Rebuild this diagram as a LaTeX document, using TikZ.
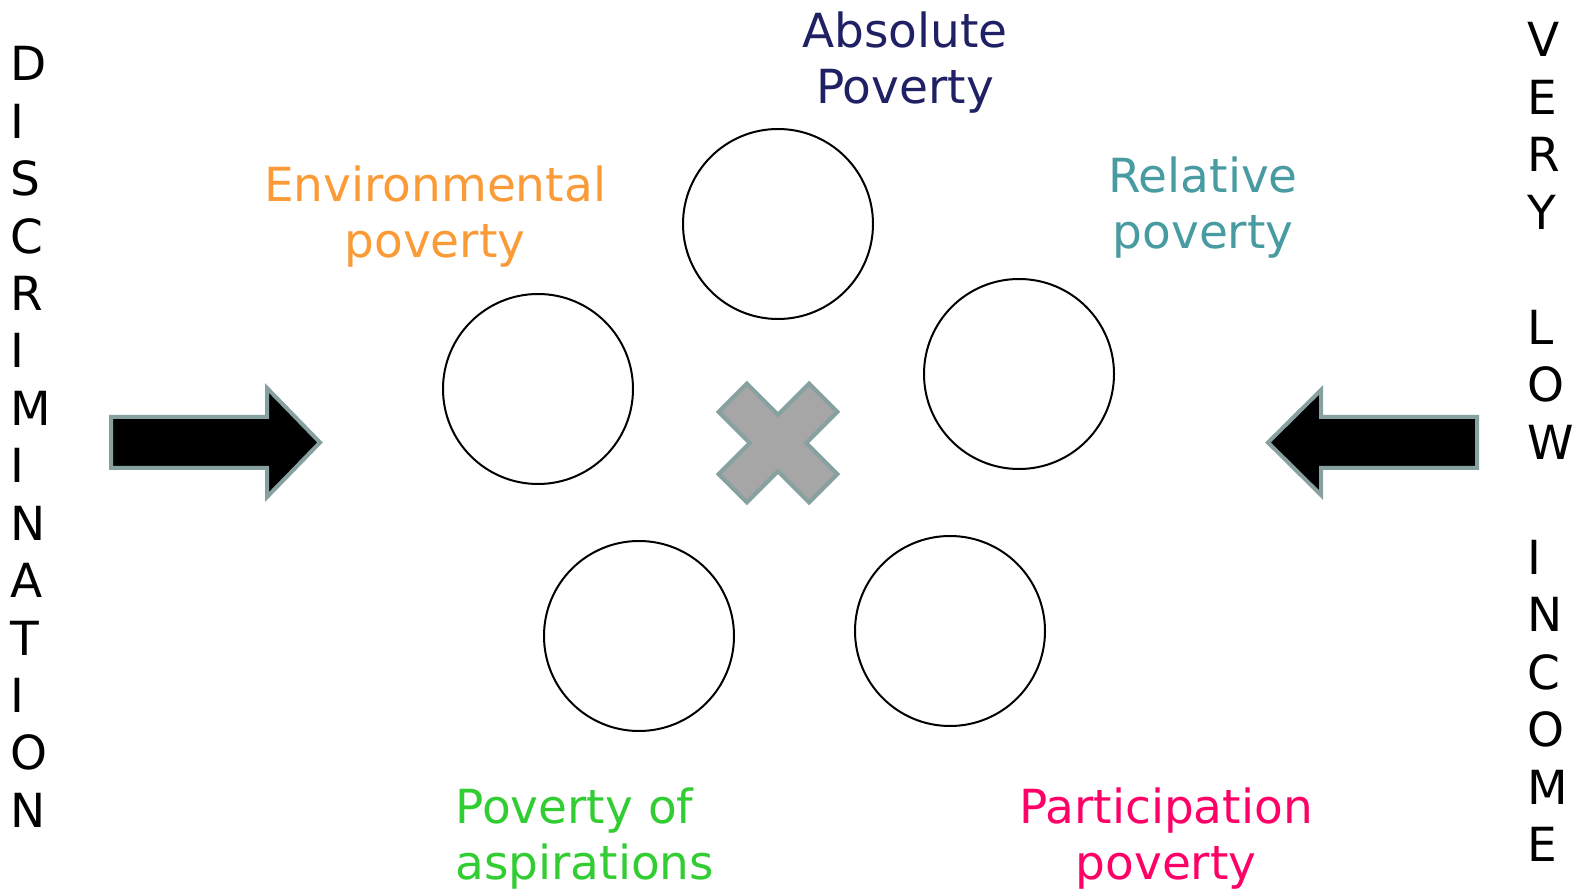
\documentclass[tikz,border=0pt]{standalone}
\usepackage{fontspec}
\setmainfont{DejaVu Sans}
\definecolor{myblue}{RGB}{32,32,100}
\definecolor{myorange}{RGB}{250,155,55}
\definecolor{myteal}{RGB}{72,155,160}
\definecolor{mygreen}{RGB}{50,205,50}
\definecolor{mypink}{RGB}{255,0,102}
\definecolor{mygray}{RGB}{166,166,166}
\definecolor{myedge}{RGB}{135,160,160}

\begin{document}
\begin{tikzpicture}[x=0.5pt,y=-0.5pt,
  lbl/.style={font=\fontsize{23.5}{28}\selectfont,align=center,inner sep=0},
  ring/.style={draw,circle,line width=1pt,minimum size=95pt,inner sep=0},
  vletter/.style={font=\fontsize{23.5}{28}\selectfont,anchor=base west,inner sep=0},
  blockarrow/.style={fill=black,draw=myedge,line width=2pt,line join=miter},
  xmark/.style={fill=mygray,draw=myedge,line width=2pt,line join=miter}]

  \useasboundingbox (0,0) rectangle (1585,892);

  % the five circles
  \node[ring] (c-abs) at (778,224) {};
  \node[ring] (c-env) at (538,389) {};
  \node[ring] (c-rel) at (1019,374) {};
  \node[ring] (c-asp) at (639,636) {};
  \node[ring] (c-part) at (950,631) {};

  % labels
  \node[lbl,text=myblue] (l-abs) at (905,63) {Absolute\\Poverty};
  \node[lbl,text=myorange] (l-env) at (435,217) {Environmental\\poverty};
  \node[lbl,text=myteal] (l-rel) at (1203,208) {Relative\\poverty};
  \node[lbl,text=mygreen,align=left,anchor=west] (l-asp) at (455,839) {Poverty of\\aspirations};
  \node[lbl,text=mypink] (l-part) at (1166,839) {Participation\\poverty};

  % cross in the middle
  \coordinate (mid) at (778,443);
  \draw[xmark,shift={(mid)},rotate=45]
    (20,20) -- (20,64) -- (-20,64) -- (-20,20) -- (-64,20) -- (-64,-20)
    -- (-20,-20) -- (-20,-64) -- (20,-64) -- (20,-20) -- (64,-20) -- (64,20) -- cycle;

  % block arrows
  \draw[blockarrow] (111,417) -- (267,417) -- (267,388) -- (320,442.5)
    -- (267,497) -- (267,468) -- (111,468) -- cycle;
  \draw[blockarrow] (1477,417) -- (1321,417) -- (1321,390) -- (1268,442.5)
    -- (1321,495) -- (1321,468) -- (1477,468) -- cycle;

  % vertical words
  \foreach \ch [count=\i] in {D,I,S,C,R,I,M,I,N,A,T,I,O,N}
    \node[vletter] (disc-\i) at (10,{81+(\i-1)*57.4}) {\ch};
  \foreach \ch [count=\i] in {V,E,R,Y,{},L,O,W,{},I,N,C,O,M,E}
    \node[vletter] (inc-\i) at (1527,{56.6+(\i-1)*57.5}) {\ch};

\end{tikzpicture}
\end{document}
